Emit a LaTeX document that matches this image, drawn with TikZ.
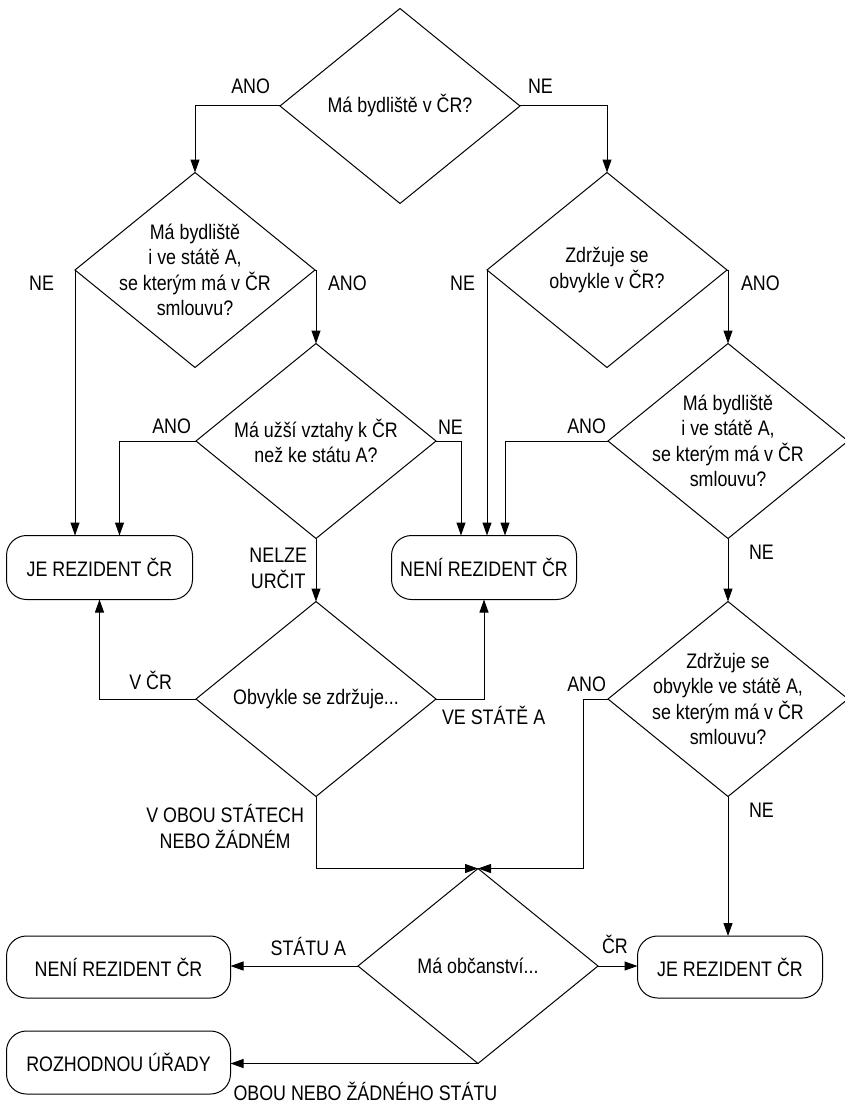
\documentclass[tikz,border=0pt]{standalone}
\usepackage{fontspec}
\setmainfont{Liberation Sans}[FakeStretch=0.85]
\usepackage{tikz}
\usetikzlibrary{shapes.geometric,positioning,arrows.meta}

\begin{document}
\begin{tikzpicture}[x=1pt, y=-1pt, node distance = 10pt,
    font=\fontsize{21}{25.5}\selectfont,
    decision/.style={
    	diamond, draw, line width=1pt, minimum width=240pt, minimum height=195pt,
    	inner sep=-30pt, outer sep=0pt, align=center},
    terminal/.style={
    	rectangle, rounded corners=20pt, draw, line width=1pt,
    	minimum width=185pt, minimum height=64pt, outer sep=0pt},
    answer/.style={inner sep=0pt, outer sep=0pt, align=center},
    flow/.style={draw, line width=1pt, -{Triangle[length=13pt,width=9pt]}}]
    	\useasboundingbox (0,0) rectangle (845,1105);
    	% rozhodovaci uzly
    	\node (D1) [decision] at (400,106) {Má bydliště v ČR?};
    	\node (D2) [decision] at (195,270) {Má bydliště\\i ve státě A,\\se kterým má v ČR\\smlouvu?};
    	\node (D3) [decision] at (607,270) {Zdržuje se\\obvykle v ČR?};
    	\node (D4) [decision] at (316,441) {Má užší vztahy k ČR\\než ke státu A?};
    	\node (D5) [decision] at (728,441) {Má bydliště\\i ve státě A,\\se kterým má v ČR\\smlouvu?};
    	\node (D7) [decision] at (316,699) {Obvykle se zdržuje...};
    	\node (D6) [decision] at (728,699) {Zdržuje se\\obvykle ve státě A,\\se kterým má v ČR\\smlouvu?};
    	\node (D8) [decision] at (478,966) {Má občanství...};
    	% vysledky
    	\node (B1) [terminal, minimum width=186pt] at (99.5,567.5) {JE REZIDENT ČR};
    	\node (B2) [terminal] at (484,567.5) {NENÍ REZIDENT ČR};
    	\node (B3) [terminal, minimum width=224pt, minimum height=62pt] at (118.5,967) {NENÍ REZIDENT ČR};
    	\node (B4) [terminal, minimum height=62pt] at (730,967) {JE REZIDENT ČR};
    	\node (B5) [terminal, minimum width=224pt, minimum height=63pt, below=33pt of B3] {ROZHODNOU ÚŘADY};
    	% spojnice
    	\draw [flow] (D1.west) -| (D2.north);
    	\draw [flow] (D1.east) -| (D3.north);
    	\draw [flow] (D2.west) -- (D2.west |- B1.north);
    	\draw [flow] (D2.east) -| (D4.north);
    	\draw [flow] (D3.west) -- (D3.west |- B2.north);
    	\draw [flow] (D3.east) -| (D5.north);
    	\draw [flow] (D4.west) -| ([xshift=20pt]B1.north);
    	\draw [flow] (D4.east) -| ([xshift=-23pt]B2.north);
    	\draw [flow] (D4.south) -- (D7.north);
    	\draw [flow] (D5.west) -| ([xshift=21pt]B2.north);
    	\draw [flow] (D5.south) -- (D6.north);
    	\draw [flow] (D7.west) -| (B1.south);
    	\draw [flow] (D7.east) -| (B2.south);
    	\draw [flow] (D7.south) |- (D8.north);
    	\draw [flow] (D6.west) -- ++(-25,0) |- (D8.north);
    	\draw [flow] (D6.south) -- (D6.south |- B4.north);
    	\draw [flow] (D8.west) -- (D8.west -| B3.east);
    	\draw [flow] (D8.east) -- (D8.east -| B4.west);
    	\draw [flow] (D8.south) -- (D8.south -| B5.east);
    	% popisky
    	\node (ano1) [answer, above left=12pt and 10pt of D1.west] {ANO};
    	\node (ne1) [answer, above right=12pt and 8pt of D1.east] {NE};
    	\node (ne2) [answer, below left=6pt and 21pt of D2.west] {NE};
    	\node (ano2) [answer, below right=6pt and 13pt of D2.east] {ANO};
    	\node (ne3) [answer, below left=6pt and 12pt of D3.west] {NE};
    	\node (ano3) [answer, below right=6pt and 14pt of D3.east] {ANO};
    	\node (ano4) [answer, above left=7pt and 5pt of D4.west] {ANO};
    	\node (ne4) [answer, above right=7pt and 2pt of D4.east] {NE};
    	\node (nelze) [answer, below left=10pt and 9pt of D4.south] {NELZE\\URČIT};
    	\node (ano5) [answer, above left=7pt and 2pt of D5.west] {ANO};
    	\node (ne5) [answer, below right=7pt and 21pt of D5.south] {NE};
    	\node (vcr) [answer, above left=9pt and 24pt of D7.west] {V ČR};
    	\node (vsa) [answer, below right=7.5pt and 6pt of D7.east] {VE STÁTĚ A};
    	\node (voba) [answer, below left=8pt and 12pt of D7.south] {V OBOU STÁTECH\\NEBO ŽÁDNÉM};
    	\node (ano6) [answer, above left=7pt and 2pt of D6.west] {ANO};
    	\node (ne6) [answer, below right=7pt and 21pt of D6.south] {NE};
    	\node (sta) [answer, above left=10pt and 12pt of D8.west] {STÁTU A};
    	\node (cr) [answer, above right=12pt and 4pt of D8.east] {ČR};
    	\node (obou) [answer, below right=20pt and 3pt of B5.east] {OBOU NEBO ŽÁDNÉHO STÁTU};
	\end{tikzpicture}
\end{document}
